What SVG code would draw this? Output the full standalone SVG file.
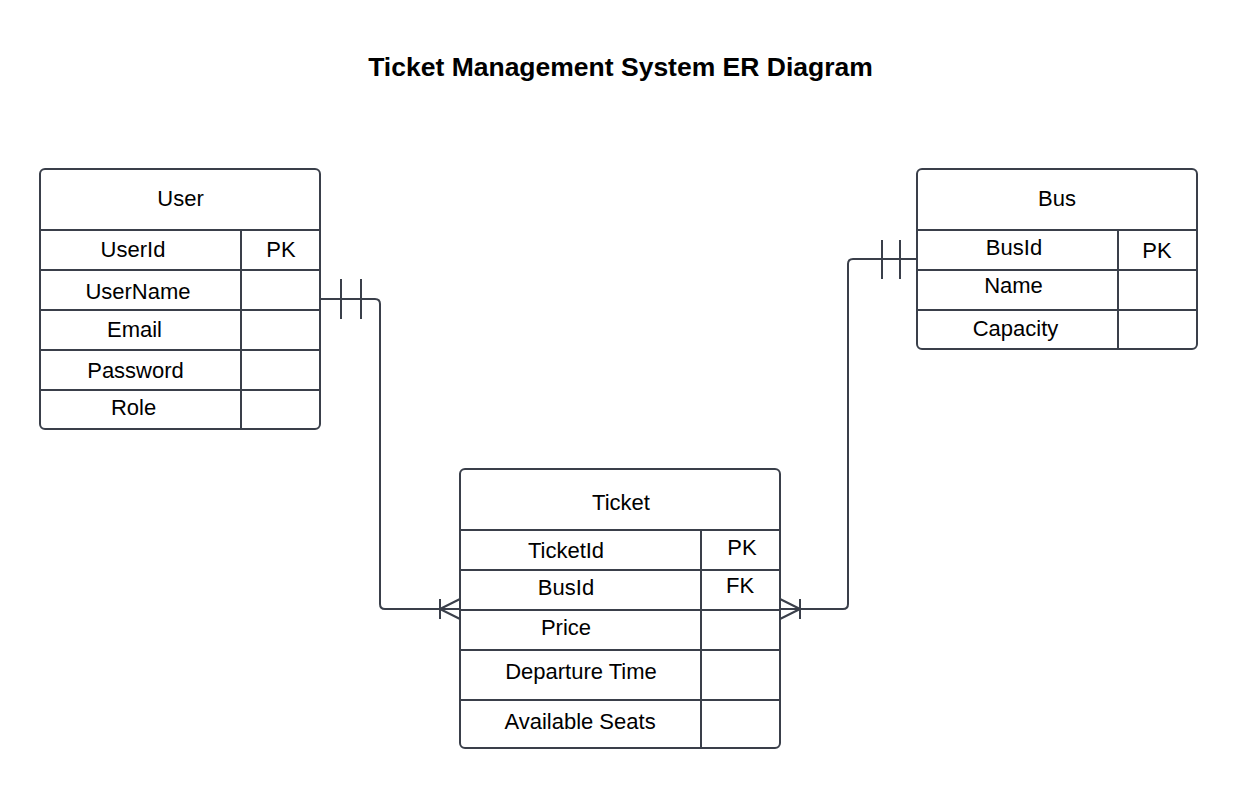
<svg xmlns="http://www.w3.org/2000/svg" width="1238" height="789" viewBox="0 0 1238 789">
<style>
.box{fill:#ffffff;stroke:#3a3f4a;stroke-width:2}
.ln{fill:none;stroke:#3a3f4a;stroke-width:2}
.t{font-family:"Liberation Sans",Arial,sans-serif;font-size:22px;fill:#000000;text-anchor:middle}
.title{font-family:"Liberation Sans",Arial,sans-serif;font-size:26.5px;font-weight:bold;fill:#000000;text-anchor:middle}
</style>
<rect width="1238" height="789" fill="#ffffff"/>
<text class="title" x="620.5" y="76">Ticket Management System ER Diagram</text>

<g id="connectors">
  <path class="ln" d="M320,299 H375 Q380,299 380,304 V604 Q380,609 385,609 H460"/>
  <path class="ln" d="M341,279 V319 M361,279 V319"/>
  <path class="ln" d="M440,599 V619 M440,609 L460,599 M440,609 L460,619"/>
  <path class="ln" d="M917,259 H853 Q848,259 848,264 V604 Q848,609 843,609 H780"/>
  <path class="ln" d="M882,240 V279 M900,240 V279"/>
  <path class="ln" d="M800,599 V619 M800,609 L780,599 M800,609 L780,619"/>
</g>

<g id="user">
  <rect class="box" x="40" y="169" width="280" height="260" rx="5"/>
  <path class="ln" d="M40,230 H320 M40,270 H320 M40,310 H320 M40,350 H320 M40,390 H320 M241,230 V429"/>
  <text class="t" x="180.5" y="206">User</text>
  <text class="t" x="133" y="257">UserId</text>
  <text class="t" x="281" y="257">PK</text>
  <text class="t" x="138" y="299">UserName</text>
  <text class="t" x="134.5" y="337">Email</text>
  <text class="t" x="135.5" y="378">Password</text>
  <text class="t" x="133.5" y="415">Role</text>
</g>

<g id="bus">
  <rect class="box" x="917" y="169" width="280" height="180" rx="5"/>
  <path class="ln" d="M917,230 H1197 M917,270 H1197 M917,310 H1197 M1118,230 V349"/>
  <text class="t" x="1057" y="206">Bus</text>
  <text class="t" x="1014" y="255">BusId</text>
  <text class="t" x="1157" y="258">PK</text>
  <text class="t" x="1013.5" y="293">Name</text>
  <text class="t" x="1015.5" y="336">Capacity</text>
</g>

<g id="ticket">
  <rect class="box" x="460" y="469" width="320" height="279" rx="5"/>
  <path class="ln" d="M460,530 H780 M460,570 H780 M460,610 H780 M460,650 H780 M460,700 H780 M701,530 V748"/>
  <text class="t" x="621" y="510">Ticket</text>
  <text class="t" x="566" y="558">TicketId</text>
  <text class="t" x="742" y="555">PK</text>
  <text class="t" x="566" y="595">BusId</text>
  <text class="t" x="740" y="593">FK</text>
  <text class="t" x="566" y="635">Price</text>
  <text class="t" x="581" y="679">Departure Time</text>
  <text class="t" x="580" y="729">Available Seats</text>
</g>
</svg>
